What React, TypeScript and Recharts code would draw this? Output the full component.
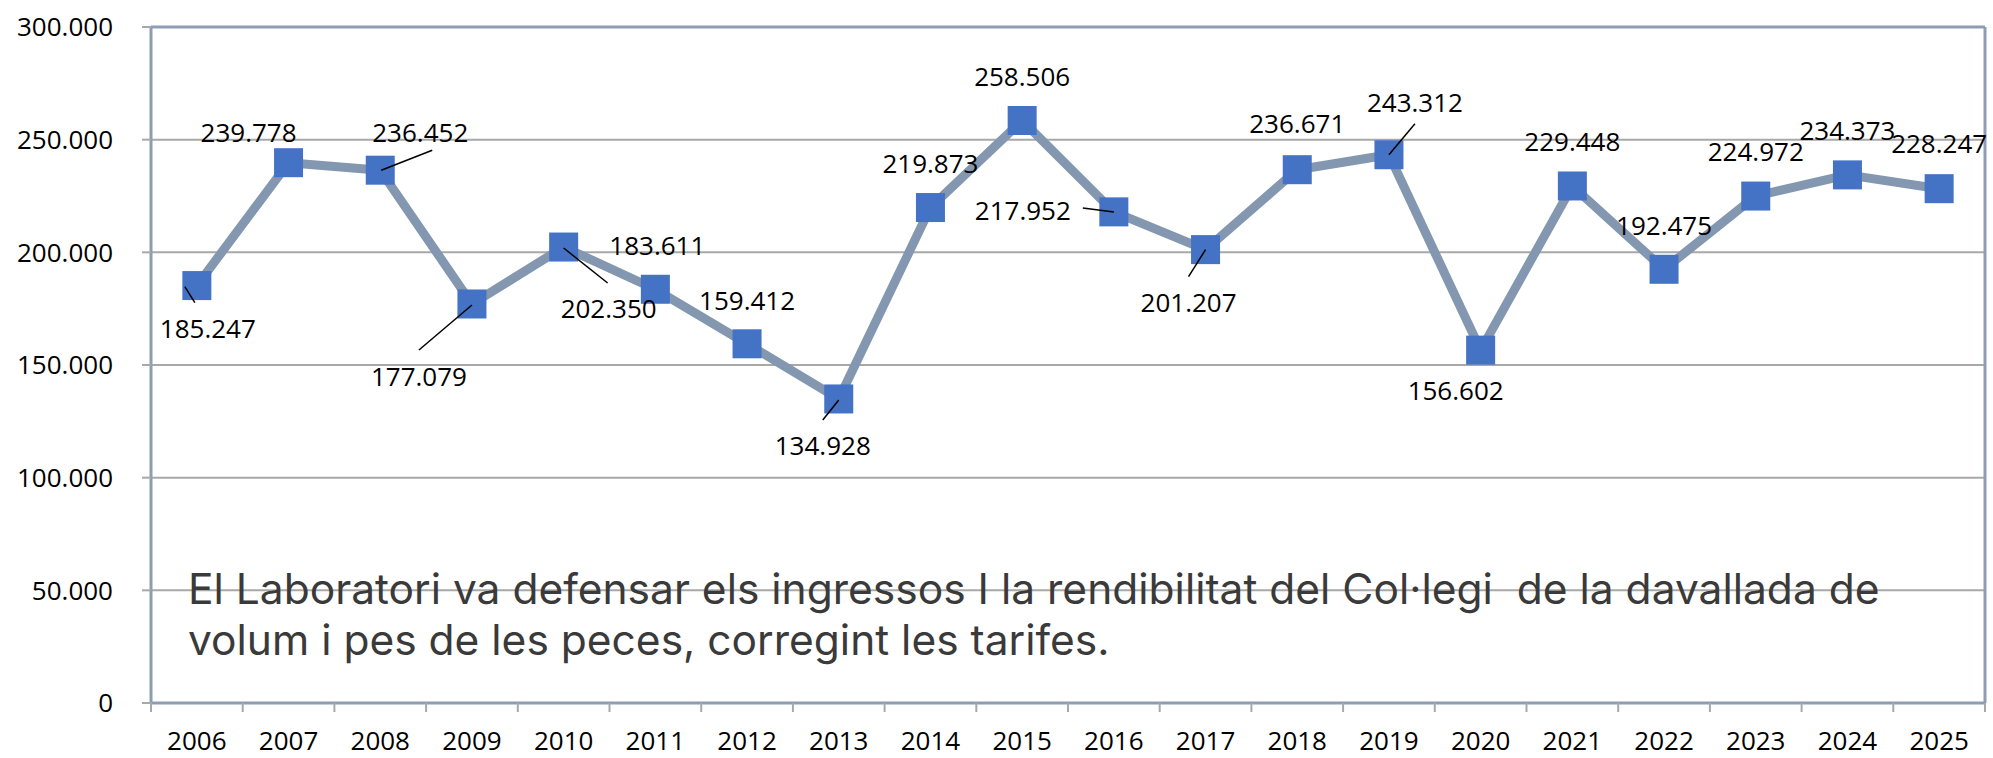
import React from "react";
import {
  LineChart,
  Line,
  XAxis,
  YAxis,
  CartesianGrid,
  ReferenceLine,
  LabelList,
} from "recharts";

const years = [
  "2006", "2007", "2008", "2009", "2010", "2011", "2012", "2013", "2014", "2015",
  "2016", "2017", "2018", "2019", "2020", "2021", "2022", "2023", "2024", "2025",
];
const values = [
  185247, 239778, 236452, 177079, 202350, 183611, 159412, 134928, 219873, 258506,
  217952, 201207, 236671, 243312, 156602, 229448, 192475, 224972, 234373, 228247,
];
const yTicks = [0, 50000, 100000, 150000, 200000, 250000, 300000];
const noteLines = [
  "El Laboratori va defensar els ingressos I la rendibilitat del Col·legi  de la davallada de",
  "volum i pes de les peces, corregint les tarifes.",
];

// label placement (pixel offsets from point centre) and optional leader lines
const labelOffsets: [number, number][] = [
  [11, 42], [-40, -31], [40, -38], [-53, 72], [45, 61],
  [2, -44], [0, -44], [-16, 46], [0, -45], [0, -44],
  [-91, -2], [-17, 52], [0, -47], [26, -53], [-25, 40],
  [0, -45], [0, -44], [0, -45], [0, -45], [0, -46],
];
const leaders: (number[] | null)[] = [
  [-12, 1, -2, 17], null, [1, 0, 52, -20], [0, 1, -53, 46], [0, 1, 44, 36],
  null, null, [0, 1, -16, 21], null, null,
  [-31, -4, 0, 0], [0, 0, -17, 27], null, [0, 0, 26, -31], null,
  null, null, null, null, null,
];

const chartData = years.map((y, i) => ({ idx: i, year: y, value: values[i] }));
const xTicks: number[] = [];
for (let i = 0; i <= years.length * 2; i++) xTicks.push(-0.5 + i * 0.5);

const FONT = "'Open Sans', 'Noto Sans', sans-serif";
const AXIS = "#8e9db3";
const GRID = "#a8a8a8";

const fmt = (v: number) => {
  if (v < 1000) return String(v);
  const th = Math.floor(v / 1000);
  const rest = String(v % 1000).padStart(3, "0");
  return `${th}.${rest}`;
};

const XTick = (props: any) => {
  const { x, y, payload } = props;
  const v = payload.value as number;
  if (Number.isInteger(v)) {
    return (
      <text x={x} y={y + 47} textAnchor="middle" fontSize={26} fontFamily={FONT} fill="#000">
        {years[v]}
      </text>
    );
  }
  return <line x1={x} x2={x} y1={y} y2={y + 9} stroke={GRID} strokeWidth={2} />;
};

const SquareDot = (props: any) => {
  const { cx, cy, index } = props;
  if (cx == null || cy == null) return null;
  return <rect key={`d${index}`} x={cx - 14.5} y={cy - 14.5} width={29} height={29} fill="#4472c4" />;
};

const DataLabel = (props: any) => {
  const { x, y, value, index } = props;
  const [dx, dy] = labelOffsets[index];
  const l = leaders[index];
  return (
    <g>
      {l && (
        <line x1={x + l[0]} y1={y + l[1]} x2={x + l[2]} y2={y + l[3]} stroke="#000" strokeWidth={1.5} />
      )}
      <text
        x={x + dx}
        y={y + dy}
        textAnchor="middle"
        dominantBaseline="central"
        fontSize={26}
        fontFamily={FONT}
        fill="#000"
      >
        {fmt(value)}
      </text>
    </g>
  );
};

export default function App() {
  return (
    <div style={{ position: "absolute", left: 0, top: 0, width: 1993, height: 758, background: "#fff" }}>
      <LineChart
        width={1993}
        height={758}
        data={chartData}
        margin={{ top: 27, right: 8, bottom: 0, left: 0 }}
      >
        <CartesianGrid horizontal vertical={false} stroke={GRID} strokeWidth={2} />
        <XAxis
          dataKey="idx"
          type="number"
          domain={[-0.5, 19.5]}
          ticks={xTicks}
          interval={0}
          tickLine={false}
          tickSize={0}
          tickMargin={0}
          height={55}
          axisLine={{ stroke: AXIS, strokeWidth: 3 }}
          tick={<XTick />}
        />
        <YAxis
          type="number"
          domain={[0, 300000]}
          ticks={yTicks}
          interval={0}
          width={151}
          tickSize={9}
          tickMargin={29}
          tickFormatter={fmt}
          tickLine={{ stroke: GRID, strokeWidth: 2 }}
          axisLine={{ stroke: AXIS, strokeWidth: 3 }}
          tick={{ fontSize: 26, fontFamily: FONT, fill: "#000" }}
        />
        <ReferenceLine y={300000} stroke={AXIS} strokeWidth={3} />
        <ReferenceLine x={19.5} stroke={AXIS} strokeWidth={3} />
        <Line
          type="linear"
          dataKey="value"
          stroke="#8497b0"
          strokeWidth={9}
          strokeLinejoin="round"
          dot={<SquareDot />}
          activeDot={false}
          isAnimationActive={false}
        >
          <LabelList dataKey="value" content={<DataLabel />} />
        </Line>
      </LineChart>
      <div
        style={{
          position: "absolute",
          left: 188,
          top: 563,
          fontFamily: "Inter, sans-serif",
          fontSize: 42.5,
          lineHeight: "51px",
          color: "#3a3a3a",
          whiteSpace: "pre",
        }}
      >
        {noteLines.join("\n")}
      </div>
    </div>
  );
}
